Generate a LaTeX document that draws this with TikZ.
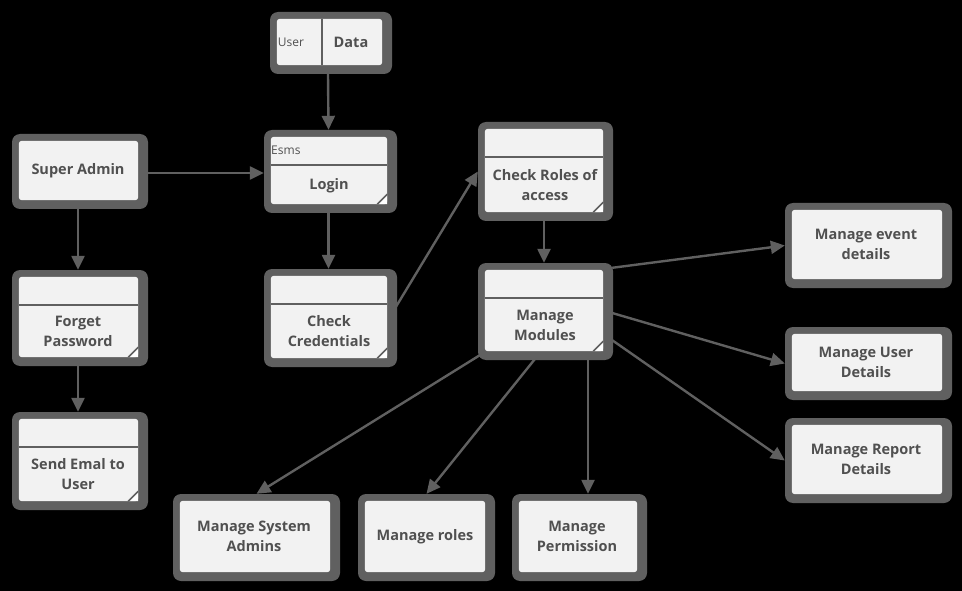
\documentclass[tikz,border=0pt]{standalone}
\usepackage{fontspec}
\setmainfont{Open Sans}
\usetikzlibrary{arrows.meta,fit,calc}
\definecolor{bord}{HTML}{606060}
\definecolor{boxbg}{HTML}{F2F2F2}
\definecolor{txt}{HTML}{505050}
\tikzset{
  boxouter/.style={inner sep=0pt, fill=bord, rounded corners=8pt, draw=none},
  boxinner/.style={fill=boxbg, rounded corners=3pt},
  hdrline/.style={draw=bord, line width=2pt},
  lbl/.style={font=\bfseries\fontsize{14.5}{20}\selectfont, text=txt, align=center, inner sep=0pt},
  small/.style={font=\fontsize{12}{14}\selectfont, text=txt, inner sep=0pt},
  conn/.style={draw=bord, line width=2.4pt, -{Triangle[length=14pt,width=13pt]}},
}
\newcommand{\ebox}[3]{%
  \node[boxouter, fit={#2 #3}] (#1) {};
  \fill[boxinner] ([shift={(7,7)}]#1.north west) rectangle ([shift={(-10,-9)}]#1.south east);
}
\newcommand{\efold}[1]{%
  \fill[white] ([shift={(-20,-9)}]#1.south east) -- ([shift={(-10,-19)}]#1.south east) -- ([shift={(-10,-9)}]#1.south east) -- cycle;
  \draw[bord, line width=1.6pt] ([shift={(-20,-9)}]#1.south east) -- ([shift={(-10,-19)}]#1.south east);
}
\newcommand{\ehdr}[1]{%
  \draw[hdrline] ([shift={(7,35)}]#1.north west) -- ([shift={(-10,35)}]#1.north east);
}
\begin{document}
\begin{tikzpicture}[x=1pt,y=-1pt]
\fill[black] (0,0) rectangle (962,591);
\useasboundingbox (0,0) rectangle (962,591);

% boxes
\ebox{ud}{(270,12)}{(392,74)}
\ebox{login}{(264,130)}{(397,213)}
\ebox{cc}{(264,269)}{(397,367)}
\ebox{sa}{(12,134)}{(148,209)}
\ebox{fp}{(12,270)}{(148,366)}
\ebox{se}{(12,412)}{(148,510)}
\ebox{cr}{(478,122)}{(613,221)}
\ebox{mm}{(478,263)}{(613,360)}
\ebox{ev}{(785,203)}{(952,288)}
\ebox{udt}{(785,327)}{(952,400)}
\ebox{rep}{(785,418)}{(952,503)}
\ebox{msa}{(173,494)}{(340,581)}
\ebox{mr}{(358,494)}{(495,581)}
\ebox{mp}{(512,494)}{(647,581)}

% headers and folds
\foreach \n in {login,cc,fp,se,cr,mm}{\ehdr{\n}\efold{\n}}
\draw[hdrline] ([shift={(52,7)}]ud.north west) -- ([shift={(52,-9)}]ud.south west);

% texts
\node[small] (tuser) at (291,42) {User};
\node[lbl] (tdata) at (351,42) {Data};
\node[small, anchor=west] (tesms) at (271,150) {Esms};
\node[lbl] (tlogin) at (329,185.5) {Login};
\node[lbl] (tcc) at (329,331.5) {Check\\Credentials};
\node[lbl] (tsa) at (78,170.5) {Super Admin};
\node[lbl] (tfp) at (78,331.5) {Forget\\Password};
\node[lbl] (tse) at (78,474.5) {Send Emal to\\User};
\node[lbl] (tcr) at (545,185.5) {Check Roles of\\access};
\node[lbl] (tmm) at (545,325.5) {Manage\\Modules};
\node[lbl] (tev) at (866,244.5) {Manage event\\details};
\node[lbl] (tudt) at (866,362.5) {Manage User\\Details};
\node[lbl] (trep) at (866,459.5) {Manage Report\\Details};
\node[lbl] (tmsa) at (254,536.5) {Manage System\\Admins};
\node[lbl] (tmr) at (425,536.5) {Manage roles};
\node[lbl] (tmp) at (577,536.5) {Manage\\Permission};

% connectors
\draw[conn] ([xshift=-3]ud.south) -- ([xshift=-2]login.north);
\draw[conn] ([yshift=-1.5]sa.east) -- ([yshift=-1.5]login.west);
\draw[conn] ([xshift=-2]sa.south) -- ([xshift=-2]fp.north);
\draw[conn] ([xshift=-2]fp.south) -- ([xshift=-2]se.north);
\draw[conn] ([xshift=-2]login.south) -- ([xshift=-2]cc.north);
\draw[conn] ([shift={(-5,-5)}]cc.east) -- (cr.west);
\draw[conn] ([xshift=-1.5]cr.south) -- ([xshift=-1.5]mm.north);
\draw[conn] ([shift={(-1,5)}]mm.north east) -- (ev.west);
\draw[conn] ([shift={(-1,1.5)}]mm.east) -- (udt.west);
\draw[conn] ([shift={(-1,-20)}]mm.south east) -- (rep.west);
\draw[conn] ([shift={(2,-5)}]mm.south west) -- (msa.north);
\draw[conn] ([shift={(-7.5,-5)}]mm.south) -- (mr.north);
\draw[conn] ([shift={(42.5,-5)}]mm.south) -- ([xshift=8.5]mp.north);
\end{tikzpicture}
\end{document}
